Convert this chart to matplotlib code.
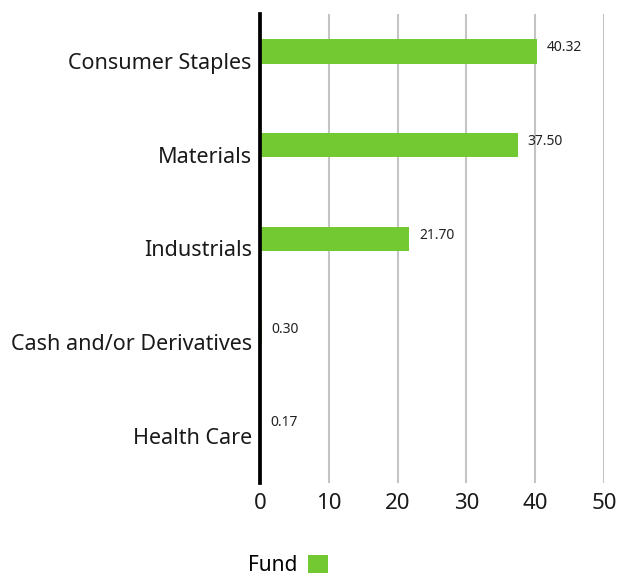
import numpy as np
import matplotlib.pyplot as plt

plt.rcParams['font.family'] = ['Noto Sans', 'DejaVu Sans']

categories = ['Consumer Staples', 'Materials', 'Industrials',
              'Cash and/or Derivatives', 'Health Care']
fund = [40.32, 37.50, 21.70, 0.30, 0.17]
xticks = [0, 10, 20, 30, 40, 50]

green = '#72c932'

fig = plt.figure(figsize=(6.17, 5.78), dpi=100)
ax = fig.add_axes([0.4214, 0.1644, 0.5576, 0.8114])

y = np.arange(len(categories))
bars = ax.barh(y - 0.1, fund, height=0.26, color=green, label='Fund', zorder=3)

# value labels to the right of each bar
for yi, v in zip(y, fund):
    ax.text(v + 1.4, yi - 0.14, f'{v:.2f}', fontsize=10, va='center', ha='left',
            color='#222222')

ax.set_xlim(0, 50)
ax.set_ylim(len(categories) - 0.5, -0.5)
ax.set_yticks(y)
ax.set_yticklabels(categories, fontsize=15.5, color='#1a1a1a')
ax.set_xticks(xticks)
ax.set_xticklabels([str(t) for t in xticks], fontsize=16, color='#1a1a1a')
ax.tick_params(axis='both', length=0)
ax.tick_params(axis='x', pad=7)
ax.tick_params(axis='y', pad=6)

for s in ['top', 'right', 'bottom']:
    ax.spines[s].set_visible(False)
ax.spines['left'].set_linewidth(2.7)
ax.spines['left'].set_color('black')
ax.spines['left'].set_zorder(4)

ax.xaxis.grid(True, color='#c4c4c4', linewidth=1.5, zorder=0)
ax.yaxis.grid(False)
ax.set_axisbelow(True)

leg = fig.legend(loc='center', bbox_to_anchor=(0.467, 0.022), frameon=False,
                 markerfirst=False, fontsize=15, handlelength=1.0,
                 handleheight=1.0, handletextpad=0.5)

fig.savefig('out.png', dpi=100)
